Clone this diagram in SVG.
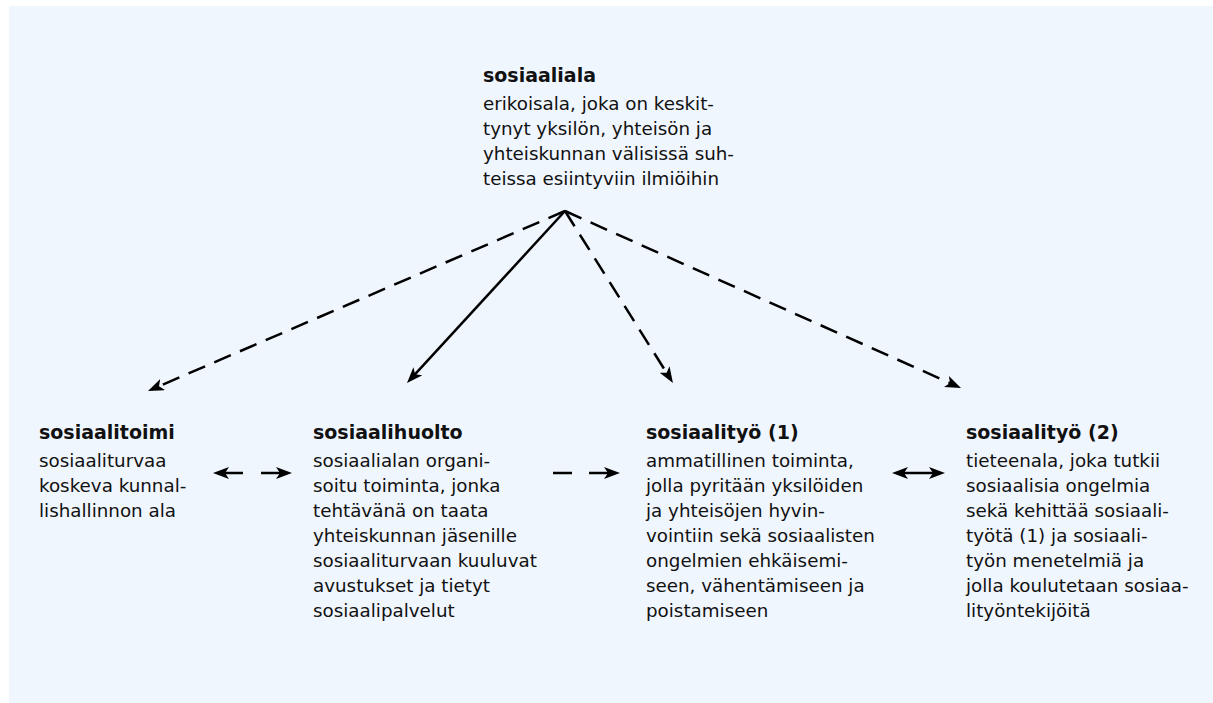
<svg xmlns="http://www.w3.org/2000/svg" width="1213" height="703" viewBox="0 0 1213 703">
<defs>
<marker id="ah" viewBox="0 0 16 12" refX="8" refY="6" markerWidth="16" markerHeight="12" markerUnits="userSpaceOnUse" orient="auto-start-reverse">
<path d="M0,0 L16,6 L0,12 L4,6 z" fill="#000"/>
</marker>
</defs>
<style>
text{font-family:"DejaVu Sans",sans-serif;fill:#111;}
.t{font-size:19px;font-weight:bold;}
.b{font-size:18.3px;}
.c{stroke:#000;stroke-width:2.5;fill:none;}
.d{stroke-dasharray:18 10;}
</style>
<rect x="9" y="6" width="1204" height="697" fill="#f0f6fe"/>
<g id="connectors">
<line class="c d" x1="565" y1="211" x2="155.3" y2="387.8" marker-end="url(#ah)"/>
<line class="c" x1="565" y1="211" x2="412.4" y2="377.1" marker-end="url(#ah)"/>
<line class="c d" x1="565" y1="211" x2="668.7" y2="376.2" marker-end="url(#ah)"/>
<line class="c d" x1="565" y1="211" x2="953.7" y2="384.7" marker-end="url(#ah)"/>
<line class="c" x1="243" y1="473" x2="221" y2="473" marker-end="url(#ah)"/>
<line class="c" x1="261" y1="473" x2="284" y2="473" marker-end="url(#ah)"/>
<line class="c" x1="553" y1="473" x2="572" y2="473"/>
<line class="c" x1="589" y1="473" x2="612" y2="473" marker-end="url(#ah)"/>
<line class="c" x1="900" y1="473" x2="937" y2="473" marker-start="url(#ah)" marker-end="url(#ah)"/>
</g>
<g id="sosiaaliala">
<text class="t" x="483" y="82">sosiaaliala</text>
<text class="b"><tspan x="483" y="110">erikoisala, joka on keskit-</tspan><tspan x="483" y="135">tynyt yksilön, yhteisön ja</tspan><tspan x="483" y="160">yhteiskunnan välisissä suh-</tspan><tspan x="483" y="185">teissa esiintyviin ilmiöihin</tspan></text>
</g>
<g id="sosiaalitoimi">
<text class="t" x="39" y="439">sosiaalitoimi</text>
<text class="b"><tspan x="39" y="467">sosiaaliturvaa</tspan><tspan x="39" y="492">koskeva kunnal-</tspan><tspan x="39" y="517">lishallinnon ala</tspan></text>
</g>
<g id="sosiaalihuolto">
<text class="t" x="313" y="439">sosiaalihuolto</text>
<text class="b"><tspan x="313" y="467">sosiaalialan organi-</tspan><tspan x="313" y="492">soitu toiminta, jonka</tspan><tspan x="313" y="517">tehtävänä on taata</tspan><tspan x="313" y="542">yhteiskunnan jäsenille</tspan><tspan x="313" y="567">sosiaaliturvaan kuuluvat</tspan><tspan x="313" y="592">avustukset ja tietyt</tspan><tspan x="313" y="617">sosiaalipalvelut</tspan></text>
</g>
<g id="sosiaalityo1">
<text class="t" x="646" y="439">sosiaalityö (1)</text>
<text class="b"><tspan x="646" y="467">ammatillinen toiminta,</tspan><tspan x="646" y="492">jolla pyritään yksilöiden</tspan><tspan x="646" y="517">ja yhteisöjen hyvin-</tspan><tspan x="646" y="542">vointiin sekä sosiaalisten</tspan><tspan x="646" y="567">ongelmien ehkäisemi-</tspan><tspan x="646" y="592">seen, vähentämiseen ja</tspan><tspan x="646" y="617">poistamiseen</tspan></text>
</g>
<g id="sosiaalityo2">
<text class="t" x="966" y="439">sosiaalityö (2)</text>
<text class="b"><tspan x="966" y="467">tieteenala, joka tutkii</tspan><tspan x="966" y="492">sosiaalisia ongelmia</tspan><tspan x="966" y="517">sekä kehittää sosiaali-</tspan><tspan x="966" y="542">työtä (1) ja sosiaali-</tspan><tspan x="966" y="567">työn menetelmiä ja</tspan><tspan x="966" y="592">jolla koulutetaan sosiaa-</tspan><tspan x="966" y="617">lityöntekijöitä</tspan></text>
</g>
</svg>
